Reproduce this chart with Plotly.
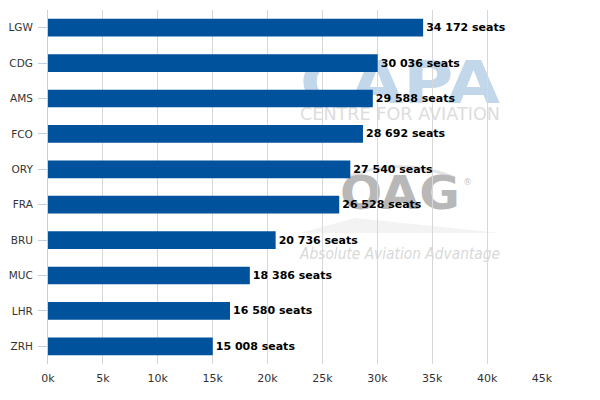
import plotly.graph_objects as go
import base64

airports = ["LGW", "CDG", "AMS", "FCO", "ORY", "FRA", "BRU", "MUC", "LHR", "ZRH"]
seats = [34172, 30036, 29588, 28692, 27540, 26528, 20736, 18386, 16580, 15008]
x_ticks = [0, 5000, 10000, 15000, 20000, 25000, 30000, 35000, 40000, 45000]
x_tick_labels = ["0k", "5k", "10k", "15k", "20k", "25k", "30k", "35k", "40k", "45k"]

labels = [f"{v:,}".replace(",", " ") + " seats" for v in seats]

W, H = 494, 354
ox, oy = 48, 10
svg = f'''<svg xmlns="http://www.w3.org/2000/svg" width="{W}" height="{H}" viewBox="0 0 {W} {H}">
<text x="{400-ox}" y="{103-oy}" text-anchor="middle" font-family="DejaVu Sans, Verdana, sans-serif" font-weight="bold" font-size="58" fill="#c3d7ea" textLength="200" lengthAdjust="spacingAndGlyphs">CAPA</text>
<text x="{400-ox}" y="{120-oy}" text-anchor="middle" font-family="DejaVu Sans, sans-serif" font-size="17" fill="#dddddd" textLength="200" lengthAdjust="spacingAndGlyphs">CENTRE FOR AVIATION</text>
<path d="M {345-ox} {178-oy} Q {400-ox} {155-oy} {455-ox} {178-oy}" stroke="#e4e4e4" stroke-width="3" fill="none"/>
<text x="{400-ox}" y="{209-oy}" text-anchor="middle" font-family="DejaVu Sans, sans-serif" font-weight="bold" font-size="46" fill="#b8b8b8" textLength="120" lengthAdjust="spacingAndGlyphs">OAG</text>
<text x="{463-ox}" y="{185-oy}" font-family="DejaVu Sans, sans-serif" font-size="9" fill="#c8c8c8">&#174;</text>
<path d="M {300-ox} {233-oy} L {355-ox} {218-oy} L {500-ox} {233-oy} Z" fill="#f3f3f3"/>
<text x="{400-ox}" y="{259-oy}" text-anchor="middle" font-family="DejaVu Sans, sans-serif" font-style="italic" font-size="16" fill="#d9d9d9" textLength="200" lengthAdjust="spacingAndGlyphs">Absolute Aviation Advantage</text>
</svg>'''
src = "data:image/svg+xml;base64," + base64.b64encode(svg.encode()).decode()

fig = go.Figure(go.Bar(
    x=seats, y=airports, orientation="h",
    marker=dict(color="#00529c", line=dict(width=0)),
    text=labels, textposition="outside", cliponaxis=False,
    textfont=dict(family="DejaVu Sans", size=11, color="#000000", weight="bold"),
    width=0.5,
))

fig.update_layout(
    width=600, height=400,
    margin=dict(l=48, r=58, t=10, b=36),
    paper_bgcolor="white", plot_bgcolor="rgba(0,0,0,0)",
    showlegend=False,
    font=dict(family="DejaVu Sans", size=11, color="#333333"),
    xaxis=dict(range=[0, 45000], tickvals=x_ticks, ticktext=x_tick_labels,
               showgrid=True, gridcolor="#d8d8d8", gridwidth=1, zeroline=False,
               showline=False, ticks="", ticklabelstandoff=6,
               tickfont=dict(size=11, color="#333333")),
    yaxis=dict(categoryorder="array", categoryarray=airports[::-1],
               showgrid=False, zeroline=False, showline=True, linecolor="#c0d0e0",
               ticks="outside", ticklen=9, tickcolor="#c0d0e0", ticklabelstandoff=3,
               tickfont=dict(size=10.5, color="#333333")),
    images=[dict(source=src, xref="paper", yref="paper", x=0, y=1,
                 sizex=1, sizey=1, sizing="stretch", xanchor="left", yanchor="top",
                 layer="below")],
    bargap=0.5,
)

fig.write_html("out.html")
